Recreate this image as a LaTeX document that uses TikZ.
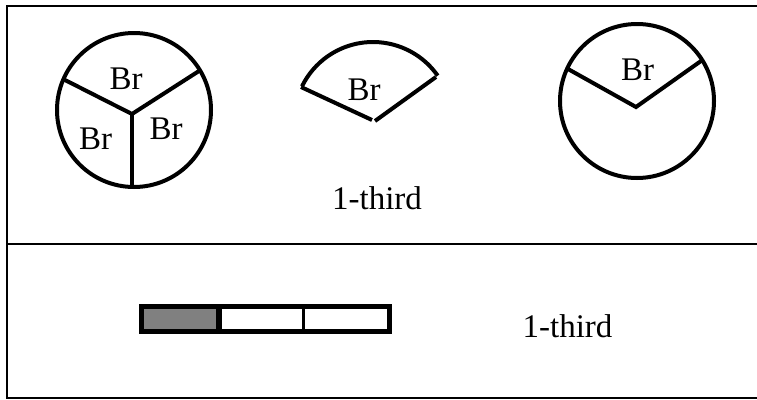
\documentclass[tikz,border=0pt]{standalone}
\usepackage{fontspec}
\setmainfont{Liberation Serif}
\begin{document}
\begin{tikzpicture}[x=1pt,y=-1pt,
  stk/.style={line width=4pt},
  frame/.style={line width=2pt},
  lbl/.style={font=\fontsize{33}{40}\selectfont, anchor=base, inner sep=0pt}]
\useasboundingbox (0,0) rectangle (757,399);
% frame
\draw[frame] (757,6) -- (7,6) -- (7,398) -- (757,398);
\draw[frame] (7,244) -- (757,244);
% circle 1 (three thirds)
\coordinate (c1) at (134,110);
\coordinate (h1) at (132,114);
\coordinate (e1a) at (63,79);
\coordinate (e1b) at (199,71);
\coordinate (e1c) at (132,187);
\draw[stk] (c1) circle[radius=77];
\draw[stk] (e1a) -- (h1) -- (e1b);
\draw[stk] (h1) -- (e1c);
\node[lbl] (b1) at (126,89) {Br};
\node[lbl] (b2) at (95.5,149) {Br};
\node[lbl] (b3) at (166,139) {Br};
% sector
\coordinate (apex) at (373,121);
\coordinate (sl) at (301,87);
\coordinate (sr) at (436,77);
\coordinate (arcs) at (437.7,75.7);
\draw[stk] (arcs) arc[start angle=-35, end angle=-154, radius=79];
\draw[stk] (sl) -- (372,120);
\draw[stk] (375,121) -- (sr);
\node[lbl] (b4) at (364,100) {Br};
% circle 3
\coordinate (c3) at (637,101);
\coordinate (h3) at (636,107);
\coordinate (e3a) at (568,69);
\coordinate (e3b) at (701,61);
\draw[stk] (c3) circle[radius=77];
\draw[stk] (e3a) -- (h3) -- (e3b);
\node[lbl] (b5) at (637.5,80) {Br};
\node[lbl] (t1) at (377,209) {1-third};
% bar
\fill[black!50] (141.5,306.5) rectangle (219,331.5);
\draw[line width=5pt] (141.5,306.5) rectangle (389.5,331.5);
\draw[line width=6pt] (219,306.5) -- (219,331.5);
\draw[line width=3pt] (303,306.5) -- (303,331.5);
\node[lbl] (t2) at (567.5,337) {1-third};
\end{tikzpicture}
\end{document}
